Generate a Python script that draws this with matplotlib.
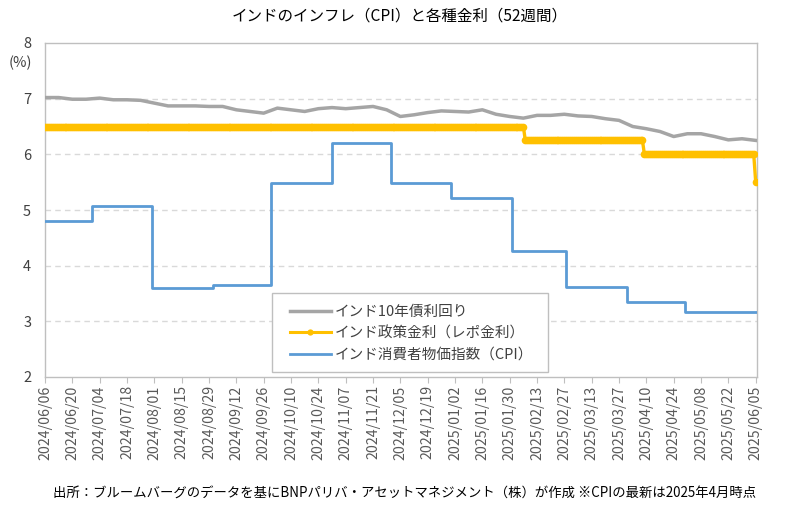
import numpy as np
import pandas as pd
import matplotlib
matplotlib.use("Agg")
import matplotlib.pyplot as plt
from matplotlib.lines import Line2D
from matplotlib.patches import Rectangle

plt.rcParams['font.family'] = ['Noto Sans CJK JP', 'DejaVu Sans']

# India 10Y bond yield, weekly readings (Thursdays from 2024/06/06)
bond_start = "2024-06-06"
bond_yield = [7.02, 7.02, 6.99, 6.99, 7.01, 6.98, 6.98, 6.97, 6.92, 6.87,
              6.87, 6.87, 6.86, 6.86, 6.80, 6.77, 6.74, 6.83, 6.80, 6.77,
              6.82, 6.84, 6.82, 6.84, 6.86, 6.80, 6.68, 6.71, 6.75, 6.78,
              6.77, 6.76, 6.80, 6.72, 6.68, 6.65, 6.70, 6.70, 6.72, 6.69,
              6.68, 6.64, 6.61, 6.50, 6.46, 6.41, 6.32, 6.37, 6.37, 6.32,
              6.26, 6.28, 6.25]

# RBI repo rate: effective dates and levels
repo_dates = ["2024-06-06", "2025-02-07", "2025-04-09", "2025-06-05"]
repo_rates = [6.50, 6.25, 6.00, 5.50]

# India CPI (YoY %), plotted from month-end of the reference month
cpi_dates = ["2024-06-06", "2024-06-30", "2024-07-31", "2024-08-31", "2024-09-30",
             "2024-10-31", "2024-11-30", "2024-12-31", "2025-01-31", "2025-02-28",
             "2025-03-31", "2025-04-30", "2025-06-05"]
cpi_values = [4.80, 5.08, 3.60, 3.65, 5.49, 6.21, 5.48, 5.22, 4.26, 3.61,
              3.34, 3.16, 3.16]

tick_start, tick_end = "2024-06-06", "2025-06-05"
end_date = "2025-06-05"

title = "インドのインフレ（CPI）と各種金利（52週間）"
labels = ["インド10年債利回り", "インド政策金利（レポ金利）", "インド消費者物価指数（CPI）"]
source = "出所：ブルームバーグのデータを基にBNPパリバ・アセットマネジメント（株）が作成 ※CPIの最新は2025年4月時点"

# ---- build series ----
bond_x = pd.date_range(bond_start, periods=len(bond_yield), freq="7D")
days = pd.date_range(repo_dates[0], end_date, freq="D")
rd = pd.to_datetime(repo_dates)
idx = np.searchsorted(rd.values, days.values, side="right") - 1
repo_series = np.array(repo_rates)[idx]
cpi_x = pd.to_datetime(cpi_dates)

W, H = 811, 515
fig = plt.figure(figsize=(W/100, H/100), dpi=100)
ax = fig.add_axes([45/W, 1-377/H, 712/W, 334/H])

ax.plot(bond_x, bond_yield, color="#A5A5A5", lw=2.5, zorder=3)
ax.plot(days, repo_series, color="#FFC000", lw=2.4, marker="o", ms=5.5,
        markeredgewidth=0, zorder=4)
ax.plot(cpi_x, cpi_values, color="#5B9BD5", lw=2.0, drawstyle="steps-post", zorder=3)

ax.set_ylim(2, 8)
ax.set_yticks(range(2, 9))
x0 = pd.Timestamp(tick_start)
x1 = pd.Timestamp(tick_end) + pd.Timedelta(hours=16)
ax.set_xlim(x0, x1)
ticks = pd.date_range(tick_start, tick_end, freq="14D")
ax.set_xticks(ticks)
ax.set_xticklabels([t.strftime("%Y/%m/%d") for t in ticks], rotation=90,
                   fontsize=10.2, color="#595959")
ax.tick_params(axis="x", length=4, color="#BFBFBF", pad=2)
ax.tick_params(axis="y", length=0, labelsize=10.5, pad=10)
for lab in ax.get_yticklabels():
    lab.set_color("#404040")

for y in range(3, 8):
    ax.axhline(y, color="#D9D9D9", lw=1, ls=(0, (4, 3)), zorder=1)
for s in ax.spines.values():
    s.set_color("#BFBFBF")
    s.set_linewidth(1)

fig.text(20/W, 1-63/H, "(%)", ha="center", va="center", fontsize=10.5, color="#404040")
fig.text(400/W, 1-16/H, title, ha="center", va="center", fontsize=11.2, color="#000000")
fig.text(405/W, 1-494/H, source, ha="center", va="center", fontsize=9.6, color="#000000")

# legend frame
fig.patches.append(Rectangle((272/W, 1-372/H), 276/W, 79/H, transform=fig.transFigure,
                             facecolor="white", edgecolor="#BFBFBF", lw=1, zorder=5))
handles = [Line2D([], [], color="#A5A5A5", lw=2.5),
           Line2D([], [], color="#FFC000", lw=2.2, marker="o", ms=4.5, markeredgewidth=0),
           Line2D([], [], color="#5B9BD5", lw=2.0)]
leg = fig.legend(handles, labels, loc="upper left",
                 bbox_to_anchor=(290/W, 1-305/H),
                 fontsize=10.5, frameon=False, handlelength=2.8,
                 borderpad=0, labelspacing=0.5, handletextpad=0.3, borderaxespad=0)
leg.set_zorder(6)
for t in leg.get_texts():
    t.set_color("#404040")

fig.savefig("out.png", dpi=100)
